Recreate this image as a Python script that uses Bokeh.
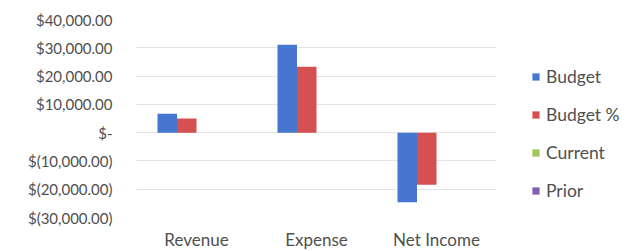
from bokeh.plotting import figure
from bokeh.models import FactorRange, Range1d, FixedTicker, Legend, LegendItem, ColumnDataSource
from bokeh.transform import dodge
from bokeh.embed import file_html
from bokeh.resources import INLINE

categories = ["Revenue", "Expense", "Net Income"]
series_names = ["Budget", "Budget %", "Current", "Prior"]
budget = [6700, 31100, -24600]
budget_pct = [5000, 23300, -18400]
current = [0, 0, 0]
prior = [0, 0, 0]
colors = ["#4676D0", "#D55050", "#9FC45A", "#7E5FB0"]

tick_values = [-30000, -20000, -10000, 0, 10000, 20000, 30000, 40000]
tick_labels = ["$(30,000.00)", "$(20,000.00)", "$(10,000.00)", "$-",
               "$10,000.00", "$20,000.00", "$30,000.00", "$40,000.00"]

FONT = "Lato"
TXT = "#505050"

src = ColumnDataSource(dict(cat=categories, Budget=budget, BudgetPct=budget_pct,
                            Current=current, Prior=prior))
cols = ["Budget", "BudgetPct", "Current", "Prior"]

p = figure(x_range=FactorRange(*categories), y_range=Range1d(-30000, 40000),
           frame_width=360, frame_height=198, output_backend="svg",
           toolbar_location=None, min_border_left=136, min_border_top=19,
           min_border_right=130, min_border_bottom=34)
p.x_range.range_padding = 0

w = 0.1625
offsets = [-1.5 * w, -0.5 * w, 0.5 * w, 1.5 * w]
renderers = []
for col, off, c in zip(cols, offsets, colors):
    r = p.vbar(x=dodge("cat", off, range=p.x_range), top=col, bottom=0, width=w,
               source=src, fill_color=c, line_color=None)
    renderers.append(r)

p.yaxis.ticker = FixedTicker(ticks=tick_values)
p.yaxis.major_label_overrides = {v: l for v, l in zip(tick_values, tick_labels)}
for ax in (p.xaxis, p.yaxis):
    ax.axis_line_color = None
    ax.major_tick_line_color = None
    ax.minor_tick_line_color = None
    ax.major_tick_out = 0
    ax.major_tick_in = 0
    ax.major_label_text_font = FONT
    ax.major_label_text_color = TXT
p.yaxis.major_label_text_font_size = "15px"
p.xaxis.major_label_text_font_size = "17px"
p.yaxis.major_label_standoff = 24
p.xaxis.major_label_standoff = 11

p.xgrid.grid_line_color = None
p.ygrid.grid_line_color = "#e3e3e3"
p.ygrid.grid_line_width = 1
p.outline_line_color = None

legend = Legend(items=[LegendItem(label=n, renderers=[r]) for n, r in zip(series_names, renderers)],
                location=(35, 16), orientation="vertical")
legend.glyph_width = 9
legend.glyph_height = 9
legend.label_standoff = 6
legend.label_height = 21
legend.spacing = 17
legend.padding = 0
legend.margin = 0
legend.border_line_color = None
legend.background_fill_alpha = 0
legend.label_text_font = FONT
legend.label_text_font_size = "17.5px"
legend.label_text_color = TXT
p.add_layout(legend, "right")

open("out.html", "w").write(file_html(p, INLINE))
